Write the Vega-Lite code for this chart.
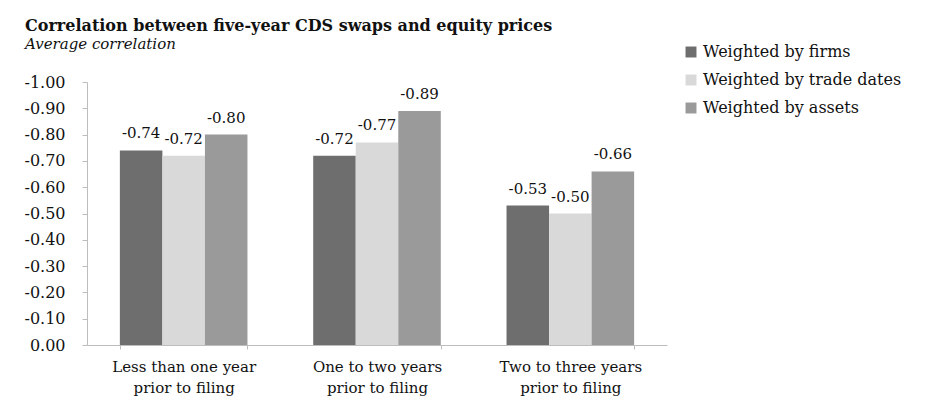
{
  "$schema": "https://vega.github.io/schema/vega-lite/v6.json",
  "width": 580,
  "height": 263,
  "autosize": {"type": "none"},
  "padding": {"left": 87, "top": 82, "right": 272, "bottom": 55},
  "background": "white",
  "title": {
    "text": "Correlation between five-year CDS swaps and equity prices",
    "subtitle": "Average correlation",
    "anchor": "start",
    "frame": "group",
    "dx": -62,
    "offset": -8,
    "font": "DejaVu Serif",
    "fontSize": 16,
    "fontWeight": "bold",
    "color": "#111111",
    "subtitleFont": "DejaVu Serif",
    "subtitleFontSize": 15,
    "subtitleFontStyle": "italic",
    "subtitleColor": "#111111",
    "subtitlePadding": 3
  },
  "data": {
    "values": [
      {"period": "Less than one year prior to filing", "series": "Weighted by firms", "value": -0.74},
      {"period": "Less than one year prior to filing", "series": "Weighted by trade dates", "value": -0.72},
      {"period": "Less than one year prior to filing", "series": "Weighted by assets", "value": -0.80},
      {"period": "One to two years prior to filing", "series": "Weighted by firms", "value": -0.72},
      {"period": "One to two years prior to filing", "series": "Weighted by trade dates", "value": -0.77},
      {"period": "One to two years prior to filing", "series": "Weighted by assets", "value": -0.89},
      {"period": "Two to three years prior to filing", "series": "Weighted by firms", "value": -0.53},
      {"period": "Two to three years prior to filing", "series": "Weighted by trade dates", "value": -0.50},
      {"period": "Two to three years prior to filing", "series": "Weighted by assets", "value": -0.66}
    ]
  },
  "encoding": {
    "x": {
      "field": "period",
      "type": "nominal",
      "sort": null,
      "scale": {"paddingInner": 0.34, "paddingOuter": 0.17},
      "axis": {
        "title": null,
        "labelAngle": 0,
        "labelExpr": "split(replace(datum.label, ' prior', '|prior'), '|')",
        "labelFont": "DejaVu Serif",
        "labelFontSize": 15,
        "labelColor": "#111111",
        "labelLineHeight": 21,
        "labelPadding": 10,
        "labelOverlap": false,
        "domainColor": "#bdbdbd",
        "tickColor": "#bdbdbd",
        "tickBand": "extent",
        "tickSize": 4
      }
    },
    "xOffset": {"field": "series", "type": "nominal", "sort": ["Weighted by firms", "Weighted by trade dates", "Weighted by assets"], "scale": {"paddingInner": 0, "paddingOuter": 0}},
    "y": {
      "field": "value",
      "type": "quantitative",
      "scale": {"domain": [-1, 0], "reverse": true, "nice": false},
      "axis": {
        "title": null,
        "grid": false,
        "values": [-1.0, -0.9, -0.8, -0.7, -0.6, -0.5, -0.4, -0.3, -0.2, -0.1, 0],
        "format": ".2f",
        "labelExpr": "replace(datum.label, '\u2212', '-')",
        "labelOverlap": false,
        "labelFont": "DejaVu Serif",
        "labelFontSize": 16,
        "labelColor": "#111111",
        "labelPadding": 17,
        "domainColor": "#bdbdbd",
        "tickColor": "#bdbdbd",
        "tickSize": 5
      }
    }
  },
  "layer": [
    {
      "mark": {"type": "bar"},
      "encoding": {
        "color": {
          "field": "series",
          "type": "nominal",
          "sort": ["Weighted by firms", "Weighted by trade dates", "Weighted by assets"],
          "scale": {"range": ["#6e6e6e", "#d9d9d9", "#9a9a9a"]},
          "legend": {
            "title": null,
            "orient": "none",
            "legendX": 596,
            "legendY": -38,
            "symbolType": "square",
            "symbolSize": 120,
            "symbolStrokeWidth": 0,
            "labelFont": "DejaVu Serif",
            "labelFontSize": 16,
            "labelColor": "#111111",
            "labelOffset": 4,
            "labelLimit": 400,
            "rowPadding": 12
          }
        }
      }
    },
    {
      "mark": {
        "type": "text",
        "baseline": "alphabetic",
        "dy": -12,
        "font": "DejaVu Serif",
        "fontSize": 15,
        "color": "#111111",
        "text": {"expr": "replace(format(datum.value, '.2f'), '\u2212', '-')"}
      },
      "encoding": {}
    }
  ],
  "config": {"view": {"stroke": null}}
}
